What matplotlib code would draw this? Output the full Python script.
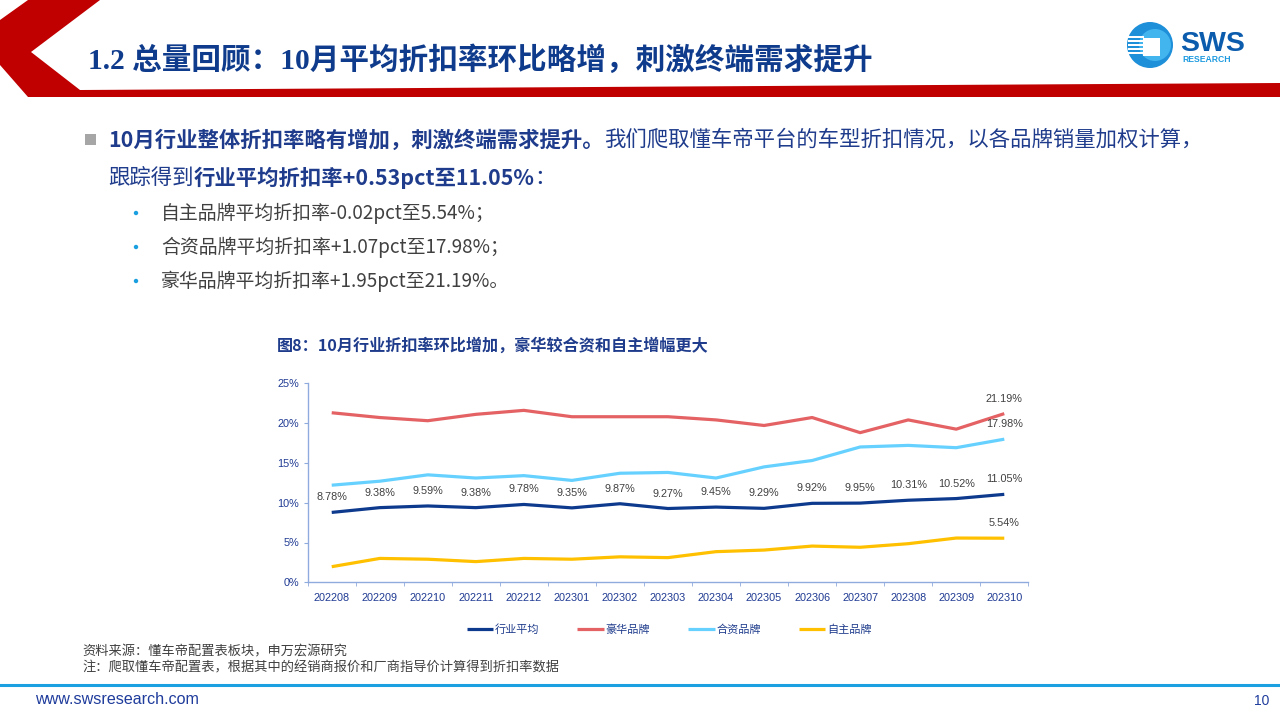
import matplotlib
matplotlib.use("Agg")
import matplotlib.pyplot as plt
from matplotlib.patches import Polygon, Circle, Rectangle
from matplotlib.lines import Line2D

CJK = ['Noto Sans CJK SC', 'DejaVu Sans']
LAT = ['Liberation Sans', 'DejaVu Sans']
SERIF = ['Liberation Serif', 'Noto Sans CJK SC', 'DejaVu Sans']
plt.rcParams['font.family'] = CJK

# ---------------- data ----------------
months = ['202208', '202209', '202210', '202211', '202212', '202301', '202302',
          '202303', '202304', '202305', '202306', '202307', '202308', '202309', '202310']
industry = [8.78, 9.38, 9.59, 9.38, 9.78, 9.35, 9.87, 9.27, 9.45, 9.29, 9.92, 9.95, 10.31, 10.52, 11.05]
luxury = [21.3, 20.7, 20.3, 21.1, 21.6, 20.8, 20.8, 20.8, 20.4, 19.7, 20.7, 18.8, 20.4, 19.24, 21.19]
joint = [12.2, 12.7, 13.5, 13.1, 13.4, 12.8, 13.7, 13.8, 13.1, 14.5, 15.3, 17.0, 17.2, 16.91, 17.98]
domestic = [1.96, 3.0, 2.9, 2.6, 3.0, 2.9, 3.2, 3.1, 3.85, 4.05, 4.55, 4.4, 4.85, 5.56, 5.54]
series_names = ['行业平均', '豪华品牌', '合资品牌', '自主品牌']
yticks = [0, 5, 10, 15, 20, 25]

C_NAVY = '#0E3A8E'
C_RED = '#E46264'
C_CYAN = '#66D1FF'
C_YEL = '#FFC000'
C_TXTBLUE = '#1F3C8C'

W, H = 1280, 720
fig = plt.figure(figsize=(12.8, 7.2), dpi=100)
fig.patch.set_facecolor('white')

# overlay in pixel coordinates for the slide decorations
ov = fig.add_axes([0, 0, 1, 1], zorder=0)
ov.set_xlim(0, W)
ov.set_ylim(H, 0)
ov.axis('off')
ov.patch.set_alpha(0)

# header red shape
hdr = [(28, 0), (100, 0), (31, 52), (80, 90), (W, 83), (W, 97), (28, 97), (0, 65), (0, 20)]
ov.add_patch(Polygon(hdr, closed=True, color='#C00000', lw=0))
ov.text(88, 60, '1.2 总量回顾：10月平均折扣率环比略增，刺激终端需求提升',
        fontsize=21.3, fontweight='bold', color='#0F3B8C', va='center', ha='left', family=SERIF)

# logo
ov.add_patch(Circle((1150, 45), 23, color='#1E8FD9', lw=0))
ov.add_patch(Circle((1155, 45), 16, color='#42B4EE', lw=0))
for yy in [37, 41, 45, 49, 53]:
    ov.add_patch(Rectangle((1128, yy - 1), 16, 2, color='white', lw=0))
ov.add_patch(Rectangle((1143, 38), 17, 18, color='white', lw=0))
ov.text(1180, 44, 'SWS', fontsize=20.5, fontweight='bold', color='#0B5CAD',
        va='center', ha='left', family=LAT)
ov.text(1182, 60, 'RESEARCH', fontsize=6.2, fontweight='bold', color='#1E9BE0',
        va='center', ha='left', family=LAT)

renderer = fig.canvas.get_renderer()


def segments(x, y, segs, size):
    for txt, weight, color in segs:
        t = ov.text(x, y, txt, fontsize=size, fontweight=weight, color=color,
                    va='center', ha='left', family=CJK)
        bb = t.get_window_extent(renderer=renderer)
        x += bb.width
    return x


# body text
ov.add_patch(Rectangle((85, 134), 11, 11, color='#A6A6A6', lw=0))
segments(108, 140, [('10月行业整体折扣率略有增加，刺激终端需求提升。', 'bold', C_TXTBLUE),
                    ('我们爬取懂车帝平台的车型折扣情况，以各品牌销量加权计算，', 'normal', C_TXTBLUE)], 15.4)
segments(108, 178, [('跟踪得到', 'normal', C_TXTBLUE),
                    ('行业平均折扣率+0.53pct至11.05%', 'bold', C_TXTBLUE),
                    ('：', 'normal', C_TXTBLUE)], 15.4)
subs = ['自主品牌平均折扣率-0.02pct至5.54%；',
        '合资品牌平均折扣率+1.07pct至17.98%；',
        '豪华品牌平均折扣率+1.95pct至21.19%。']
for i, s in enumerate(subs):
    yy = 213 + 34 * i
    ov.add_patch(Circle((136, yy), 2.2, color='#1AA0E0', lw=0))
    ov.text(161, yy, s, fontsize=13.6, color='#404040', va='center', ha='left', family=CJK)

# chart title
ov.text(277, 346, '图8：10月行业折扣率环比增加，豪华较合资和自主增幅更大',
        fontsize=11.6, fontweight='bold', color='#1F3C8C', va='center', ha='left', family=CJK)

# footer
ov.text(82, 652, '资料来源：懂车帝配置表板块，申万宏源研究', fontsize=9.5, color='#404040',
        va='center', ha='left', family=CJK)
ov.text(82, 668, '注：爬取懂车帝配置表，根据其中的经销商报价和厂商指导价计算得到折扣率数据',
        fontsize=9.5, color='#404040', va='center', ha='left', family=CJK)
ov.add_line(Line2D([0, W], [685, 685], color='#1BA1E2', lw=2.2))
ov.text(35, 700, 'www.swsresearch.com', fontsize=11.6, color='#1F3C9C', va='center', ha='left', family=LAT)
ov.text(1269, 701, '10', fontsize=10, color='#1F3C9C', va='center', ha='right', family=LAT)

# ---------------- chart ----------------
x0, x1 = 307.7, 1028.3
yb, yt = 582.3, 383.3
ax = fig.add_axes([x0 / W, (H - yb) / H, (x1 - x0) / W, (yb - yt) / H], zorder=2)
ax.patch.set_alpha(0)
xs = list(range(len(months)))
lw = 2.3
ax.plot(xs, industry, color=C_NAVY, lw=lw, label=series_names[0], solid_capstyle='butt')
ax.plot(xs, luxury, color=C_RED, lw=lw, label=series_names[1], solid_capstyle='butt')
ax.plot(xs, joint, color=C_CYAN, lw=lw, label=series_names[2], solid_capstyle='butt')
ax.plot(xs, domestic, color=C_YEL, lw=lw, label=series_names[3], solid_capstyle='butt')

ax.set_xlim(-0.5, len(months) - 0.5)
ax.set_ylim(0, 25)
ax.set_yticks(yticks)
ax.set_yticklabels([f'{v}%' for v in yticks], fontsize=7.8, color='#1F3A93', family=LAT)
ax.set_xticks(xs)
ax.set_xticklabels(months, fontsize=7.8, color='#1F3A93', family=LAT)
ax.set_xticks([i - 0.5 for i in range(len(months) + 1)], minor=True)
ax.tick_params(axis='x', which='major', length=0, pad=8)
ax.tick_params(axis='x', which='minor', length=3, color='#8FAADC', direction='out')
ax.tick_params(axis='y', length=3, color='#8FAADC', pad=3)
for s in ['top', 'right']:
    ax.spines[s].set_visible(False)
for s in ['left', 'bottom']:
    ax.spines[s].set_color('#8FAADC')
    ax.spines[s].set_linewidth(1.0)

lab_kw = dict(textcoords='offset points', xytext=(0, 10.8), ha='center', va='center',
              fontsize=7.8, color='#404040', family=LAT)
for i, v in enumerate(industry):
    ax.annotate(f'{v:.2f}%', (i, v), **lab_kw)
last = len(months) - 1
for arr in (luxury, joint, domestic):
    ax.annotate(f'{arr[last]:.2f}%', (last, arr[last]), **lab_kw)

leg = ax.legend(loc='center', bbox_to_anchor=(669 / W, 1 - 630 / H), bbox_transform=fig.transFigure,
                ncol=4, frameon=False, handlelength=2.4, handletextpad=0.15, columnspacing=3.4,
                prop={'family': CJK, 'size': 8})
for t in leg.get_texts():
    t.set_color('#1F3C8C')

fig.savefig('out.png', dpi=100, facecolor='white')
